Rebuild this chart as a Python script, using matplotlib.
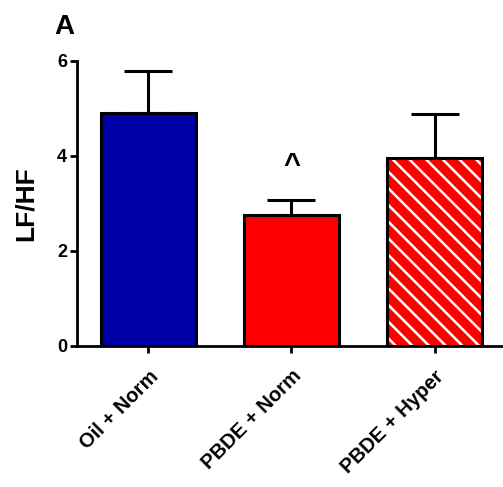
import matplotlib
matplotlib.use("Agg")
import matplotlib.pyplot as plt

categories = ["Oil + Norm", "PBDE + Norm", "PBDE + Hyper"]
means = [4.91, 2.75, 3.96]
sem = [0.88, 0.31, 0.93]
colors = ["#0000a8", "#ff0000", "#ff0000"]
hatches = [None, None, "\\\\"]

plt.rcParams['font.family'] = ['Liberation Sans', 'DejaVu Sans']
plt.rcParams['hatch.linewidth'] = 1.8

fig = plt.figure(figsize=(5.03, 4.87), dpi=100)
ax = fig.add_axes([0.153, 0.290, 0.853, 0.585])

x = list(range(len(categories)))
for i in x:
    if hatches[i]:
        ax.bar(i, means[i], width=0.67, color=colors[i], edgecolor='white',
               linewidth=0, hatch=hatches[i], zorder=2)
        ax.bar(i, means[i], width=0.67, color='none', edgecolor='black',
               linewidth=2.2, zorder=3)
    else:
        ax.bar(i, means[i], width=0.67, color=colors[i], edgecolor='black',
               linewidth=2.2, zorder=2)
ax.errorbar(x, means, yerr=[[0]*3, sem], fmt='none', ecolor='black',
            elinewidth=2.2, capsize=17, capthick=2.2, zorder=1)

ax.text(1, means[1] + sem[1] + 0.45, "^", ha='center', va='bottom',
        fontsize=21, fontweight='bold')

ax.set_xlim(-0.5, 2.5)
ax.set_ylim(0, 6)
ax.set_yticks([0, 2, 4, 6])
ax.set_xticks(x)
ax.set_xticklabels(categories, rotation=45, ha='right', rotation_mode='anchor',
                   fontsize=14.5, fontweight='bold')
for lab in ax.get_yticklabels():
    lab.set_fontweight('bold')
    lab.set_fontsize(13)
ax.tick_params(axis='both', direction='out', length=5, width=2, pad=2)
ax.tick_params(axis='x', pad=10)
ax.spines['top'].set_visible(False)
ax.spines['right'].set_visible(False)
ax.spines['left'].set_linewidth(2)
ax.spines['bottom'].set_linewidth(2)
ax.set_ylabel("LF/HF", fontsize=19, fontweight='bold', labelpad=14)

fig.text(0.107, 0.945, "A", fontsize=20, fontweight='bold', ha='left', va='center')

fig.savefig("out.png", dpi=100)
